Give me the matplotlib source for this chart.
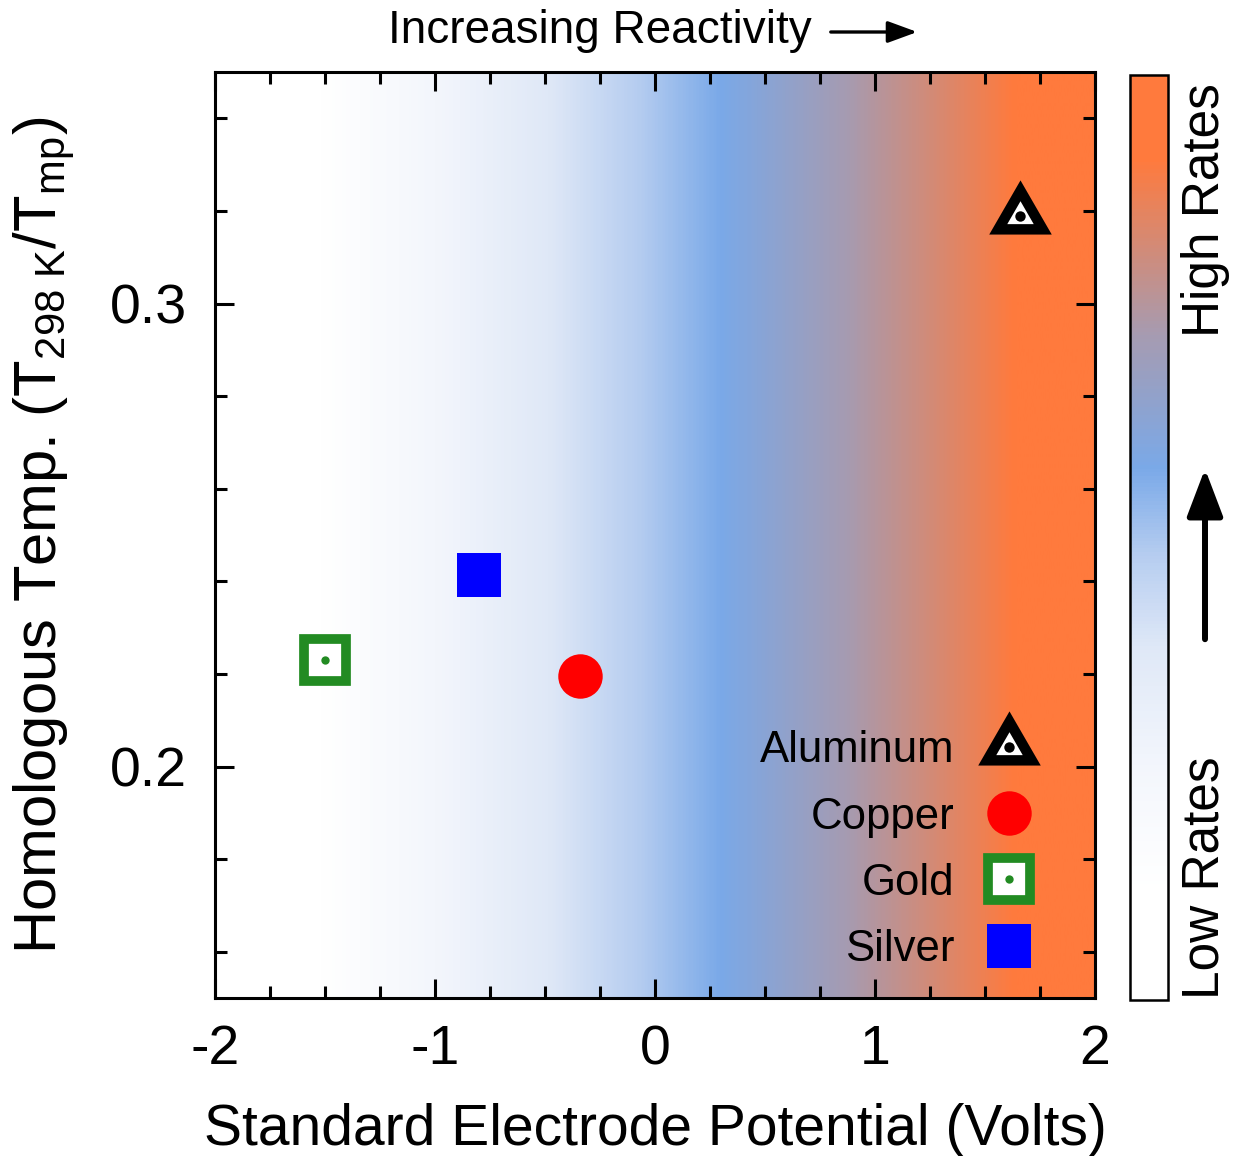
import numpy as np
import matplotlib
matplotlib.use("Agg")
import matplotlib.pyplot as plt
from matplotlib.colors import LinearSegmentedColormap, Normalize
from matplotlib.cm import ScalarMappable
from matplotlib.legend_handler import HandlerTuple
from matplotlib.path import Path
from matplotlib.ticker import MultipleLocator, FixedLocator

plt.rcParams['font.family'] = ['Liberation Sans', 'DejaVu Sans']
plt.rcParams['mathtext.fontset'] = 'custom'
plt.rcParams['mathtext.rm'] = 'Liberation Sans'
plt.rcParams['mathtext.it'] = 'Liberation Sans:italic'

# ---- data ----
metals = ["Aluminum", "Copper", "Gold", "Silver"]
potential = [1.66, -0.34, -1.50, -0.80]          # Volts (sign as plotted)
homologous = [0.319, 0.2195, 0.2229, 0.2413]      # T298K / Tmp
x_ticks = [-2, -1, 0, 1, 2]
y_ticks = [0.2, 0.3]

cmap = LinearSegmentedColormap.from_list(
    "react",
    [(0.0, "#ffffff"), (0.12, "#ffffff"), (0.25, "#f3f6fc"), (0.38, "#dfe8f7"),
     (0.48, "#b6cdf0"), (0.575, "#7aa9e8"), (0.72, "#a69bb1"), (0.91, "#ff7a3d"),
     (1.0, "#ff7a3d")])

fig = plt.figure(figsize=(12.41, 11.56), dpi=100)
ax = fig.add_axes([215/1241, 158/1156, 880/1241, 926/1156])

xg = np.linspace(-2, 2, 600)[None, :]
ax.imshow(xg, extent=[-2, 2, 0.15, 0.35], aspect='auto', cmap=cmap,
          norm=Normalize(-2, 2), origin='lower', zorder=0, interpolation='bilinear')

ax.set_xlim(-2, 2)
ax.set_ylim(0.15, 0.35)

# triangle marker (equilateral)
tri = Path([(0, 1.1547), (-1, -0.5774), (1, -0.5774), (0, 1.1547)],
           [Path.MOVETO, Path.LINETO, Path.LINETO, Path.CLOSEPOLY])

i = 0
al_outer, = ax.plot([potential[i]], [homologous[i]], linestyle='none', marker=tri,
                    markersize=52, color='black', markeredgewidth=0, zorder=3)
al_inner, = ax.plot([potential[i]], [homologous[i]], linestyle='none', marker=tri,
                    markersize=22, color='white', markeredgewidth=0, zorder=4)
al_dot, = ax.plot([potential[i]], [homologous[i]], linestyle='none', marker='o',
                  markersize=7.5, color='black', markeredgewidth=0, zorder=5)
i = 1
cu, = ax.plot([potential[i]], [homologous[i]], linestyle='none', marker='o',
              markersize=32, color='#ff0000', markeredgewidth=0, zorder=3)
i = 2
au_sq, = ax.plot([potential[i]], [homologous[i]], linestyle='none', marker='s',
                 markersize=30.5, markerfacecolor='white', markeredgecolor='#228b22',
                 markeredgewidth=7, zorder=3)
au_dot, = ax.plot([potential[i]], [homologous[i]], linestyle='none', marker='o',
                  markersize=6, color='#228b22', markeredgewidth=0, zorder=4)
i = 3
ag, = ax.plot([potential[i]], [homologous[i]], linestyle='none', marker='s',
              markersize=32, color='#0000ff', markeredgewidth=0, zorder=3)

leg = ax.legend([(al_outer, al_inner, al_dot), cu, (au_sq, au_dot), ag], metals,
                handler_map={tuple: HandlerTuple(ndivide=1)},
                loc='lower right', bbox_to_anchor=(0.9595, 0.0115),
                frameon=False, fontsize=31.5, markerfirst=False,
                handlelength=1.5, handletextpad=0.5, labelspacing=0.575,
                borderpad=0.4, borderaxespad=0.0)

# ticks
ax.xaxis.set_major_locator(FixedLocator(x_ticks))
ax.xaxis.set_minor_locator(MultipleLocator(0.25))
ax.yaxis.set_major_locator(FixedLocator(y_ticks))
ax.yaxis.set_minor_locator(MultipleLocator(0.02))
ax.set_xticklabels([str(v) for v in x_ticks])
ax.set_yticklabels([f"{v:.1f}" for v in y_ticks])
ax.tick_params(which='both', direction='in', top=True, right=True, width=2.2)
ax.tick_params(axis='x', which='major', length=14, labelsize=40, pad=19)
ax.tick_params(axis='y', which='major', length=14, labelsize=40, pad=20)
ax.tick_params(which='minor', length=8.5)
for s in ax.spines.values():
    s.set_linewidth(2.2)

ax.set_xlabel("Standard Electrode Potential (Volts)", fontsize=41, labelpad=19)
ax.set_ylabel(r"Homologous Temp. (T$_\mathregular{298\ K}$/T$_\mathregular{mp}$)",
              fontsize=43, labelpad=24)

# top annotation
fig.text(600/1241, 1 - 31/1156, "Increasing Reactivity", fontsize=33,
         ha='center', va='center')
fig.add_artist(matplotlib.patches.FancyArrowPatch(
    (828/1241, 1 - 32/1156), (920/1241, 1 - 32/1156), transform=fig.transFigure,
    arrowstyle='-|>,head_length=0.9,head_width=0.33', mutation_scale=20,
    linewidth=2.4, color='black'))

# colorbar
cax = fig.add_axes([1130/1241, 156/1156, 38/1241, 925/1156])
cb = fig.colorbar(ScalarMappable(norm=Normalize(0, 1), cmap=cmap), cax=cax)
cb.set_ticks([])
cb.outline.set_linewidth(1.8)

fig.text(1205/1241, 1 - 210/1156, "High Rates", fontsize=37, rotation=90,
         ha='center', va='center')
fig.text(1205/1241, 1 - 878/1156, "Low Rates", fontsize=37, rotation=90,
         ha='center', va='center')
fig.add_artist(matplotlib.patches.FancyArrowPatch(
    (1205/1241, 1 - 642/1156), (1205/1241, 1 - 466/1156), transform=fig.transFigure,
    arrowstyle='-|>,head_length=1.45,head_width=0.55', mutation_scale=20,
    linewidth=4.3, color='black'))

fig.savefig("out.png", dpi=100)
